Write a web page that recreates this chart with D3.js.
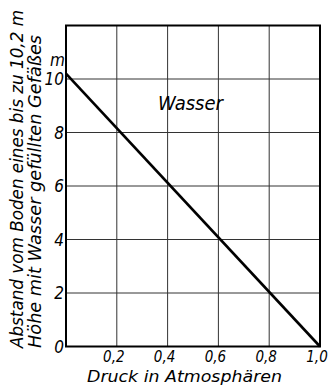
<!DOCTYPE html>
<html>
<head>
<meta charset="utf-8">
<script src="https://cdn.jsdelivr.net/npm/d3@7"></script>
<style>
  html, body { margin: 0; padding: 0; background: #fff; }
  svg { display: block; }
  text { font-family: "DejaVu Sans Condensed", "DejaVu Sans", sans-serif; font-style: italic; fill: #000; }
</style>
</head>
<body>
<svg id="chart" width="330" height="386"></svg>
<script>
// Pressure (atm) vs. height of the point above the bottom of a 10.2 m water column
const pressure = [0, 1.0];
const height = [10.2, 0];

const xTicks = [0.2, 0.4, 0.6, 0.8, 1.0];
const xTickLabels = ["0,2", "0,4", "0,6", "0,8", "1,0"];
const yTicks = [0, 2, 4, 6, 8, 10];
const yTickLabels = ["0", "2", "4", "6", "8", "10"];
const yTitle = ["Abstand vom Boden eines bis zu 10,2 m", "Höhe mit Wasser gefüllten Gefäßes"];
const xTitle = "Druck in Atmosphären";
const seriesLabel = "Wasser";

const svg = d3.select("#chart");
const x = d3.scaleLinear().domain([0, 1]).range([66, 320]);
const y = d3.scaleLinear().domain([0, 12]).range([346.5, 25.5]);

// grid
const grid = svg.append("g").attr("stroke", "#333").attr("stroke-width", 1);
grid.selectAll("line.v").data(xTicks.slice(0, -1)).join("line")
  .attr("x1", d => x(d)).attr("x2", d => x(d))
  .attr("y1", y(12)).attr("y2", y(0));
grid.selectAll("line.h").data(yTicks.slice(1)).join("line")
  .attr("x1", x(0)).attr("x2", x(1))
  .attr("y1", d => y(d)).attr("y2", d => y(d));

// frame
svg.append("rect")
  .attr("x", x(0)).attr("y", y(12))
  .attr("width", x(1) - x(0)).attr("height", y(0) - y(12))
  .attr("fill", "none").attr("stroke", "#000").attr("stroke-width", 2);

// data line
const pts = pressure.map((p, i) => [p, height[i]]);
svg.append("path")
  .attr("d", d3.line().x(d => x(d[0])).y(d => y(d[1]))(pts))
  .attr("fill", "none").attr("stroke", "#000").attr("stroke-width", 2.6);

// y tick labels
svg.selectAll("text.yt").data(yTicks).join("text")
  .attr("x", 64).attr("y", d => y(d) + 6)
  .attr("text-anchor", "end").attr("font-size", 17)
  .text((d, i) => yTickLabels[i]);
svg.append("text").attr("x", 65).attr("y", 66)
  .attr("text-anchor", "end").attr("font-size", 17).text("m");

// x tick labels
svg.selectAll("text.xt").data(xTicks).join("text")
  .attr("x", d => x(d) - 3).attr("y", 362)
  .attr("text-anchor", "middle").attr("font-size", 15)
  .text((d, i) => xTickLabels[i]);

// axis titles
svg.append("text").attr("x", 87).attr("y", 382)
  .attr("font-size", 16)
  .attr("textLength", 195).attr("lengthAdjust", "spacingAndGlyphs")
  .text(xTitle);
const titleLen = [338, 313];
yTitle.forEach((t, i) => {
  svg.append("text")
    .attr("transform", `translate(${[23, 41][i]},348) rotate(-90)`)
    .attr("font-size", 18)
    .attr("textLength", titleLen[i]).attr("lengthAdjust", "spacingAndGlyphs")
    .text(t);
});

// series label
svg.append("text").attr("x", 158).attr("y", 110)
  .attr("font-size", 20).text(seriesLabel);
</script>
</body>
</html>
